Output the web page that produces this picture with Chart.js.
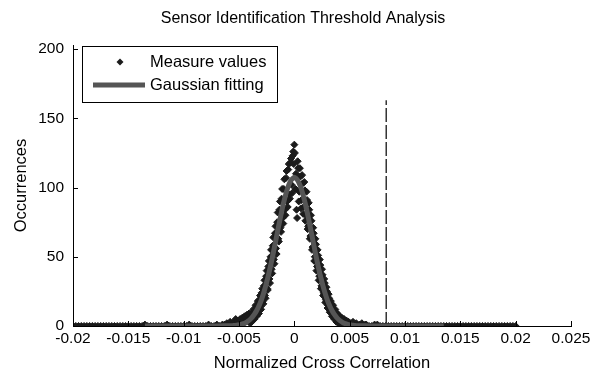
<!DOCTYPE html>
<html><head><meta charset="utf-8">
<script src="https://cdn.jsdelivr.net/npm/chart.js@4.4.1/dist/chart.umd.min.js"></script>
<style>html,body{margin:0;padding:0;background:#fff;}#wrap{width:604px;height:375px;}</style>
</head><body><div id="wrap"><canvas id="c" width="604" height="375"></canvas></div>
<script>
const titleText = 'Sensor Identification Threshold Analysis';
const xLabel = 'Normalized Cross Correlation';
const yLabel = 'Occurrences';
const seriesNames = ['Measure values', 'Gaussian fitting'];
const xTickValues = [-0.02, -0.015, -0.01, -0.005, 0, 0.005, 0.01, 0.015, 0.02, 0.025];
const xTickLabels = ['-0.02', '-0.015', '-0.01', '-0.005', '0', '0.005', '0.01', '0.015', '0.02', '0.025'];
const yTickValues = [0, 50, 100, 150, 200];
const yTickLabels = ['0', '50', '100', '150', '200'];

// Measured histogram values: tails
const tailX = [-0.0200,-0.0195,-0.0190,-0.0185,-0.0180,-0.0175,-0.0170,-0.0165,-0.0160,-0.0155,-0.0150,-0.0145,-0.0140,-0.0135,-0.0130,-0.0125,-0.0120,-0.0115,-0.0110,-0.0105,-0.0100,-0.0095,-0.0090,-0.0085,-0.0080,-0.0075,-0.0070,-0.0065,
  0.0065,0.0070,0.0075,0.0080,0.0085,0.0090,0.0095,0.0100,0.0105,0.0110,0.0115,0.0120,0.0125,0.0130,0.0135,0.0140,0.0145,0.0150,0.0155,0.0160,0.0165,0.0170,0.0175,0.0180,0.0185,0.0190,0.0195,0.0200];
const tailY = [0,0,0,0,0,0,0,0,0,0,0,0,0,1,0,0,0,1,0,0,0,1,0,0,0,0,1,1,
  1,0,1,0,0,0,0,0,0,0,0,0,0,0,0,0,0,0,0,0,0,0,0,0,0,0,0,0];
const tail2X = [-0.01975,-0.01925,-0.01875,-0.01825,-0.01775,-0.01725,-0.01675,-0.01625,-0.01575,-0.01525,-0.01475,-0.01425,-0.01375,-0.01325,-0.01275,-0.01225,-0.01175,-0.01125,-0.01075,-0.01025,-0.00975,-0.00925,-0.00875,-0.00825,-0.00775,-0.00725,-0.00675,
  0.00675,0.00725,0.00775,0.00825,0.00875,0.00925,0.00975,0.01025,0.01075,0.01125,0.01175,0.01225,0.01275,0.01325,0.01375,0.01425,0.01475,0.01525,0.01575,0.01625,0.01675,0.01725,0.01775,0.01825,0.01875,0.01925,0.01975];
const tail2Y = [0,0,0,0,0,0,0,0,0,0,0,0,0,0,0,0,0,0,0,0,0,0,0,0,1,0,0,
  0,1,0,0,0,0,0,0,0,0,0,0,0,0,0,0,0,0,0,0,0,0,0,0,0,0,0];
// core bins
const coreX = [-0.0064,-0.0063,-0.0062,-0.0061,-0.0060,-0.0059,-0.0058,-0.0057,-0.0056,-0.0055,-0.0054,-0.0053,-0.0052,-0.0051,-0.0050,-0.0049,-0.0048,-0.0047,-0.0046,-0.0045,-0.0044,-0.0043,-0.0042,-0.0041,
  -0.0040,-0.0039,-0.0038,-0.0037,-0.0036,-0.0035,-0.0034,-0.0033,-0.0032,-0.0031,-0.0030,-0.0029,-0.0028,-0.0027,-0.0026,-0.0025,-0.0024,-0.0023,-0.0022,-0.0021,
  -0.0020,-0.0019,-0.0018,-0.0017,-0.0016,-0.0015,-0.0014,-0.0013,-0.0012,-0.0011,-0.0010,-0.0009,-0.0008,-0.0007,-0.0006,-0.0005,-0.0004,-0.0003,-0.0002,-0.0001,
  0,
  0.0001,0.0002,0.0003,0.0004,0.0005,0.0006,0.0007,0.0008,0.0009,0.0010,0.0011,0.0012,0.0013,0.0014,0.0015,0.0016,0.0017,0.0018,0.0019,0.0020,
  0.0021,0.0022,0.0023,0.0024,0.0025,0.0026,0.0027,0.0028,0.0029,0.0030,0.0031,0.0032,0.0033,0.0034,0.0035,0.0036,0.0037,0.0038,0.0039,0.0040,
  0.0041,0.0042,0.0043,0.0044,0.0045,0.0046,0.0047,0.0048,0.0049,0.0050,0.0051,0.0052,0.0053,0.0054,0.0055,0.0056,0.0057,0.0058,0.0059,0.0060,0.0061,0.0062,0.0063,0.0064];
const coreY = [0,1,0,2,0,1,3,0,2,1,3,5,1,4,2,5,1,6,2,7,3,8,4,9,
  2,9,4,12,5,15,7,18,9,22,12,27,16,33,20,40,26,47,31,55,
  38,64,45,72,52,82,61,90,68,99,74,106,80,112,86,117,92,121,96,126,
  131,
  99,84,119,90,114,85,109,81,104,76,97,70,89,63,80,55,71,47,63,40,
  55,33,48,27,41,22,34,17,28,13,23,10,18,7,15,5,12,3,9,2,
  7,1,6,0,5,1,4,0,3,1,2,0,3,1,0,2,1,0,1,0,2,0,0,1];
// half-step bins
const fineX = [-0.00395,-0.00385,-0.00375,-0.00365,-0.00355,-0.00345,-0.00335,-0.00325,-0.00315,-0.00305,-0.00295,-0.00285,-0.00275,-0.00265,-0.00255,-0.00245,-0.00235,-0.00225,-0.00215,-0.00205,
  -0.00195,-0.00185,-0.00175,-0.00165,-0.00155,-0.00145,-0.00135,-0.00125,-0.00115,-0.00105,-0.00095,-0.00085,-0.00075,-0.00065,-0.00055,-0.00045,-0.00035,-0.00025,-0.00015,-0.00005,
  0.00005,0.00015,0.00025,0.00035,0.00045,0.00055,0.00065,0.00075,0.00085,0.00095,0.00105,0.00115,0.00125,0.00135,0.00145,0.00155,0.00165,0.00175,0.00185,0.00195,
  0.00205,0.00215,0.00225,0.00235,0.00245,0.00255,0.00265,0.00275,0.00285,0.00295,0.00305,0.00315,0.00325,0.00335,0.00345,0.00355,0.00365,0.00375,0.00385,0.00395];
const fineY = [6,3,9,6,12,8,15,11,19,14,24,18,29,22,36,27,43,34,50,41,
  58,48,67,56,75,63,84,71,92,78,99,84,107,90,113,95,118,102,123,117,
  125,110,78,114,97,108,91,103,86,98,80,91,72,84,65,76,57,67,50,59,
  43,51,36,44,29,37,24,31,19,25,15,20,11,16,8,12,6,10,4,7];

// Gaussian fit curve
const gaussX = [-0.0135,-0.0100,-0.0080,-0.0064,
  -0.0056,-0.0054,-0.0052,-0.0050,-0.0048,-0.0046,-0.0044,-0.0042,-0.0040,-0.0038,-0.0036,-0.0034,-0.0032,-0.0030,-0.0028,-0.0026,-0.0024,-0.0022,-0.0020,-0.0018,-0.0016,-0.0014,-0.0012,-0.0010,-0.0008,-0.0006,-0.0004,-0.0002,
  0,
  0.0002,0.0004,0.0006,0.0008,0.0010,0.0012,0.0014,0.0016,0.0018,0.0020,0.0022,0.0024,0.0026,0.0028,0.0030,0.0032,0.0034,0.0036,0.0038,0.0040,0.0042,0.0044,0.0046,0.0048,0.0050,0.0052,0.0054,0.0056,
  0.0064,0.0080,0.0100,0.0135];
const gaussY = [0,0,0,0.1,
  0.2,0.4,0.6,0.8,1.2,1.7,2.4,3.4,4.7,6.4,8.5,11.2,14.5,18.4,23.1,28.6,34.7,41.6,49.0,56.8,64.9,73.0,80.8,88.0,94.4,99.7,103.7,106.2,
  107.5,
  106.2,103.7,99.7,94.4,88.0,80.8,73.0,64.9,56.8,49.0,41.6,34.7,28.6,23.1,18.4,14.5,11.2,8.5,6.4,4.7,3.4,2.4,1.7,1.2,0.8,0.6,0.4,0.2,
  0.1,0,0,0];

// Threshold marker
const thresholdX = [0.0083, 0.0083];
const thresholdY = [0, 163];

const FONT = "'Liberation Sans', Arial, Helvetica, sans-serif";
const DOT = '#1b1b1b';
const FIT = '#555555';

const toPts = (xs, ys) => xs.map((x, i) => ({x, y: ys[i]}));
const measurePts = toPts(tailX, tailY).concat(toPts(tail2X, tail2Y), toPts(coreX, coreY), toPts(fineX, fineY));

const overlay = {
  id: 'overlay',
  afterDraw(chart) {
    const ctx = chart.ctx;
    const xs = chart.scales.x, ys = chart.scales.y;
    const ca = chart.chartArea;
    ctx.save();
    ctx.strokeStyle = '#000'; ctx.lineWidth = 1;
    ctx.beginPath();
    xs.ticks.forEach(t => { const p = Math.round(xs.getPixelForValue(t.value)) + 0.5; ctx.moveTo(p, ca.bottom); ctx.lineTo(p, ca.bottom - 5); });
    ys.ticks.forEach(t => { const p = Math.round(ys.getPixelForValue(t.value)) + 0.5; ctx.moveTo(ca.left, p); ctx.lineTo(ca.left + 5, p); });
    ctx.stroke();
    ctx.fillStyle = '#000';
    ctx.font = '16px ' + FONT;
    ctx.textAlign = 'center'; ctx.textBaseline = 'middle';
    ctx.fillText(titleText, 303, 19);
    const bx = 82.5, by = 46.5, bw = 195, bh = 56;
    ctx.fillStyle = '#fff'; ctx.fillRect(bx, by, bw, bh);
    ctx.strokeStyle = '#000'; ctx.lineWidth = 1; ctx.strokeRect(bx, by, bw, bh);
    ctx.fillStyle = DOT;
    ctx.beginPath(); ctx.moveTo(120, 58.5); ctx.lineTo(123.5, 62); ctx.lineTo(120, 65.5); ctx.lineTo(116.5, 62); ctx.closePath(); ctx.fill();
    ctx.strokeStyle = FIT; ctx.lineWidth = 5;
    ctx.beginPath(); ctx.moveTo(93, 85); ctx.lineTo(145, 85); ctx.stroke();
    ctx.fillStyle = '#000';
    ctx.font = '16.5px ' + FONT;
    ctx.textAlign = 'left'; ctx.textBaseline = 'middle';
    ctx.fillText(chart.data.datasets[1].label, 150, 62);
    ctx.fillText(chart.data.datasets[0].label, 150, 85);
    ctx.restore();
  }
};

new Chart(document.getElementById('c'), {
  type: 'scatter',
  data: {
    datasets: [
      { type: 'line', label: seriesNames[1], data: toPts(gaussX, gaussY), borderColor: FIT, borderWidth: 5,
        pointRadius: 0, cubicInterpolationMode: 'monotone', fill: false, order: 0 },
      { label: seriesNames[0], data: measurePts, backgroundColor: DOT, borderColor: DOT, borderWidth: 1,
        pointStyle: 'rectRot', pointRadius: 3.5, order: 1 },
      { type: 'line', label: 'threshold', data: toPts(thresholdX, thresholdY), borderColor: '#000', borderWidth: 1.2,
        borderDash: [14, 3], pointRadius: 0, fill: false, order: 2 }
    ]
  },
  options: {
    responsive: false, animation: false,
    layout: { padding: { top: 45, right: 33, left: 0, bottom: 0 } },
    plugins: { legend: { display: false }, tooltip: { enabled: false }, title: { display: false } },
    scales: {
      x: {
        type: 'linear', min: -0.02, max: 0.025,
        grid: { display: false, drawTicks: false },
        border: { display: true, color: '#000', width: 1 },
        afterBuildTicks: s => { s.ticks = xTickValues.map(v => ({ value: v })); },
        afterFit: s => { s.height = 49; },
        ticks: { autoSkip: false, maxRotation: 0, padding: 3, color: '#000', font: { family: FONT, size: 15.5 },
          callback: (v, i) => xTickLabels[i] },
        title: { display: true, text: xLabel, color: '#000', font: { family: FONT, size: 16.5 }, padding: { top: 0, bottom: 2 } }
      },
      y: {
        type: 'linear', min: 0, max: 203,
        grid: { display: false, drawTicks: false },
        border: { display: true, color: '#000', width: 1 },
        afterBuildTicks: s => { s.ticks = yTickValues.map(v => ({ value: v })); },
        afterFit: s => { s.width = 73; },
        ticks: { autoSkip: false, padding: 9, color: '#000', font: { family: FONT, size: 15.5 },
          callback: (v, i) => yTickLabels[i] },
        title: { display: true, text: yLabel, color: '#000', font: { family: FONT, size: 16.5 }, padding: { top: 12, bottom: 0 } }
      }
    }
  },
  plugins: [overlay]
});
</script>
</body></html>
